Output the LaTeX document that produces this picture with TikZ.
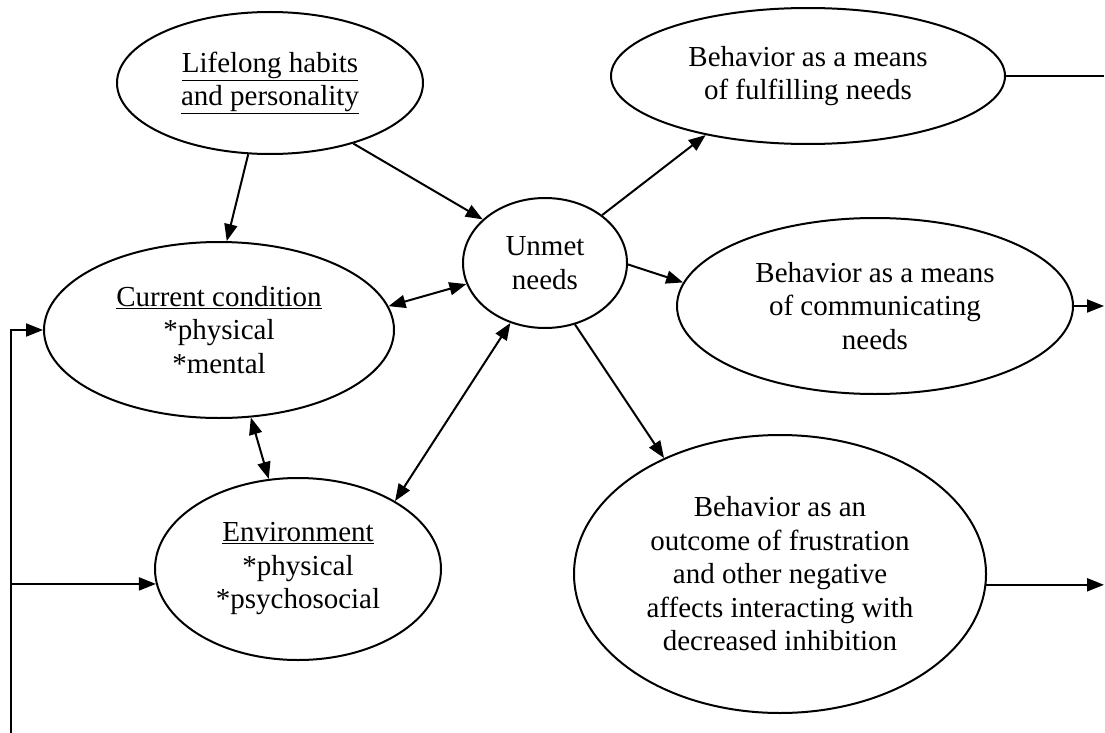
\documentclass[tikz,border=0pt]{standalone}
\usepackage{fontspec}
\setmainfont{Liberation Serif}
\usetikzlibrary{arrows.meta,shapes.geometric}
\begin{document}
\begin{tikzpicture}[x=1pt,y=-1pt,
  bub/.style={ellipse,draw,line width=2pt,inner sep=0pt,align=center,
    font=\fontsize{29}{33.5}\selectfont},
  plainline/.style={line width=2pt},
  conn/.style={line width=2pt,-{Triangle[length=17pt,width=13pt]}},
  dconn/.style={line width=2pt,{Triangle[length=17pt,width=13pt]}-{Triangle[length=17pt,width=13pt]}}]
\useasboundingbox (0,0) rectangle (1105,733);
\node[bub,minimum width=306pt,minimum height=142pt] (life) at (270,83)
  {\underline{Lifelong habits}\\\underline{and personality}};
\node[bub,minimum width=164pt,minimum height=130pt] (unmet) at (545,263)
  {Unmet\\needs};
\node[bub,minimum width=394pt,minimum height=136pt] (fulf) at (808,76)
  {Behavior as a means\\of fulfilling needs};
\node[bub,minimum width=396pt,minimum height=176pt] (comm) at (875,306)
  {Behavior as a means\\of communicating\\needs};
\node[bub,minimum width=412pt,minimum height=278pt] (frus) at (780,574)
  {Behavior as an\\outcome of frustration\\and other negative\\affects interacting with\\decreased inhibition};
\node[bub,minimum width=350pt,minimum height=176pt] (cur) at (219,330)
  {\underline{Current condition}\\*physical\\*mental};
\node[bub,minimum width=286pt,minimum height=182pt] (env) at (298,569)
  {\underline{Environment}\\*physical\\*psychosocial};

\draw[conn] (life.-107.7) -- (cur.85.6);
\draw[conn] (life.-36.1) -- (unmet.145.9);
\draw[conn] (unmet.40.1) -- (fulf.-150.6);
\draw[conn] (unmet.-1.4) -- (comm.173.9);
\draw[conn] (unmet.-64.8) -- (frus.135.9);
\draw[dconn] (cur.8.2) -- (unmet.195);
\draw[dconn] (cur.-70.6) -- (env.108.3);
\draw[dconn] (env.35.4) -- (unmet.-120.8);

\coordinate (R) at (1104,0);
\draw[plainline] (fulf.east) -- (fulf.east -| R);
\draw[conn] (comm.east) -- (comm.east -| R);
\draw[conn] (frus.-3.6) -- (frus.-3.6 -| R);

\coordinate (Lb) at (11,733);
\draw[conn] (Lb) |- (cur.west);
\draw[conn] (env.186.5 -| Lb) -- (env.186.5);
\end{tikzpicture}
\end{document}
